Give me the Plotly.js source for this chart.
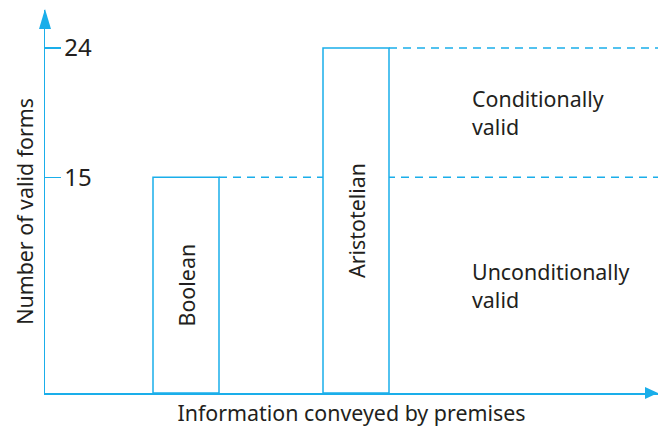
<!DOCTYPE html>
<html>
<head>
<meta charset="utf-8">
<script src="https://cdn.plot.ly/plotly-3.0.1.min.js"></script>
<style>
  html, body { margin: 0; padding: 0; background: #fff; }
  #chart { width: 658px; height: 432px; }
</style>
</head>
<body>
<div id="chart"></div>
<script>
// Number of valid syllogistic forms under each interpretation
const systems = ['Boolean', 'Aristotelian'];
const infoLevel = [141, 311];       // position along "information conveyed" axis
const validForms = [15, 24];
const regionLabels = ['Unconditionally<br>valid', 'Conditionally<br>valid'];

const BLUE = '#1aaeea';
const INK = '#231f20';
const FONT = { family: '"Noto Sans", "Open Sans", sans-serif', size: 21.4, color: INK };

const X_MAX = 613;
const Y_MAX = 26.64;
const BAR_W = 66;

const traces = [{
  type: 'bar',
  x: infoLevel,
  y: validForms,
  width: BAR_W,
  text: systems,
  textposition: 'inside',
  insidetextanchor: 'middle',
  textangle: -90,
  constraintext: 'none',
  textfont: FONT,
  marker: { color: '#ffffff', line: { color: BLUE, width: 1.5 } },
  hoverinfo: 'skip',
}];

// dashed reference lines from each bar's top-right corner to the end of the axis
const shapes = validForms.map((v, i) => ({
  type: 'line', layer: 'below',
  xref: 'x', yref: 'y',
  x0: infoLevel[i] + BAR_W / 2, x1: X_MAX,
  y0: v, y1: v,
  line: { color: BLUE, width: 1.5, dash: '8px,6px' },
}));

// arrowheads on the axes
shapes.push({
  type: 'path', xref: 'paper', yref: 'paper',
  xsizemode: 'pixel', ysizemode: 'pixel', xanchor: 0, yanchor: 1,
  path: 'M -6,-19 L 0,1 L 6,-19 Z',
  fillcolor: BLUE, line: { width: 0 },
});
shapes.push({
  type: 'path', xref: 'paper', yref: 'paper',
  xsizemode: 'pixel', ysizemode: 'pixel', xanchor: 1, yanchor: 0,
  path: 'M -13,6 L 0,0 L -13,-6 Z',
  fillcolor: BLUE, line: { width: 0 },
});

// region labels, placed between the threshold levels
const levels = [0].concat(validForms);
const annotations = regionLabels.map((t, i) => ({
  xref: 'x', yref: 'y',
  x: 425, y: (levels[i] + levels[i + 1]) / 2,
  xanchor: 'left', yanchor: 'middle', align: 'left',
  text: t, showarrow: false, font: FONT,
}));

// y-axis title sits left of the axis line
annotations.push({
  xref: 'paper', yref: 'paper', x: 0, y: 0.473,
  xshift: -20, xanchor: 'center', yanchor: 'middle',
  textangle: -90, text: 'Number of valid forms',
  showarrow: false, font: FONT,
});

const layout = {
  width: 658, height: 432,
  margin: { l: 45, r: 0, t: 10, b: 39 },
  paper_bgcolor: '#fff', plot_bgcolor: '#fff',
  font: FONT,
  showlegend: false,
  bargap: 0,
  xaxis: {
    range: [0, X_MAX], showgrid: false, zeroline: false,
    showline: true, linecolor: BLUE, linewidth: 1.5,
    showticklabels: false, ticks: '',
    title: { text: 'Information conveyed by premises', font: FONT, standoff: 12 },
    fixedrange: true,
  },
  yaxis: {
    range: [0, Y_MAX], showgrid: false, zeroline: false,
    showline: true, linecolor: BLUE, linewidth: 1.5,
    tickvals: validForms, ticktext: validForms.map(String),
    ticks: 'inside', ticklen: 16, tickcolor: BLUE, tickwidth: 1.5,
    ticklabelposition: 'inside', ticklabelstandoff: 5,
    tickfont: { ...FONT, size: 24 },
    fixedrange: true,
  },
  shapes,
  annotations,
};

Plotly.newPlot('chart', traces, layout, { displayModeBar: false, staticPlot: true });
</script>
</body>
</html>
